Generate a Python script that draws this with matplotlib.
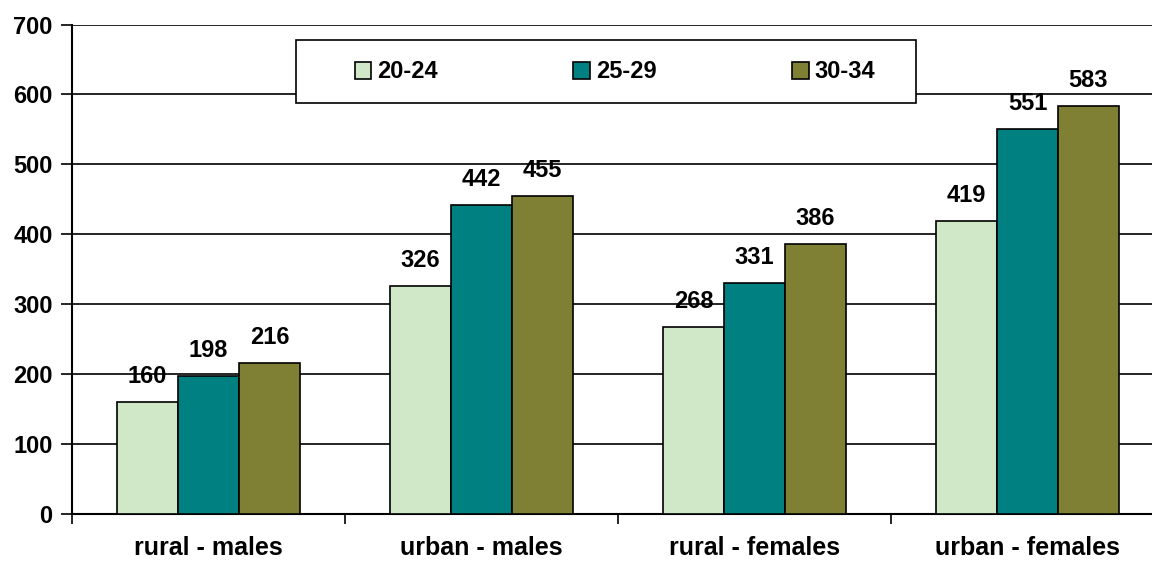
import numpy as np
import matplotlib.pyplot as plt
from matplotlib.patches import Rectangle

categories = ["rural - males", "urban - males", "rural - females", "urban - females"]
series = ["20-24", "25-29", "30-34"]
values_2024 = [160, 326, 268, 419]
values_2529 = [198, 442, 331, 551]
values_3034 = [216, 455, 386, 583]
colors = ["#D1E8C8", "#008080", "#808034"]

plt.rcParams['font.family'] = ['Liberation Sans', 'DejaVu Sans']
plt.rcParams['font.weight'] = 'bold'

W, H = 1152, 563
fig = plt.figure(figsize=(W / 100, H / 100), dpi=100)
# plot area runs past the right edge of the picture, as in the original
ax = fig.add_axes([72 / W, 1 - 514 / H, 1092 / W, (514 - 24.5) / H])

x = np.arange(len(categories))
width = 0.223
all_vals = [values_2024, values_2529, values_3034]
for i, (vals, name, col) in enumerate(zip(all_vals, series, colors)):
    pos = x + (i - 1) * width
    ax.bar(pos, vals, width, color=col, edgecolor='black', linewidth=1.2,
           label=name, zorder=3)
    for xp, v in zip(pos, vals):
        ax.annotate(str(v), (xp, v), xytext=(0, 10), textcoords='offset points',
                    ha='center', va='bottom', fontsize=17, fontweight='bold')

ax.set_xlim(-0.5, len(categories) - 0.5)
ax.set_ylim(0, 700)
ax.set_yticks(range(0, 701, 100))
ax.yaxis.grid(True, color='black', linewidth=1.2, zorder=0)
ax.set_axisbelow(True)

ax.set_xticks(np.arange(-0.5, len(categories), 1.0))
ax.set_xticklabels([])
ax.set_xticks(x, minor=True)
ax.set_xticklabels(categories, minor=True, fontsize=18, fontweight='bold')
ax.tick_params(axis='x', which='minor', length=0, pad=16)
ax.tick_params(axis='x', which='major', length=7, width=1.2, direction='out')
ax.tick_params(axis='y', length=8, width=1.2, labelsize=17, pad=6)

for s in ['top', 'right']:
    ax.spines[s].set_visible(False)
ax.spines['left'].set_linewidth(1.5)
ax.spines['bottom'].set_linewidth(1.5)

# legend box drawn separately so the entries can sit inside it freely
fig.patches.append(Rectangle((296 / W, 1 - 103 / H), 620 / W, 63 / H,
                             transform=fig.transFigure, facecolor='white',
                             edgecolor='black', linewidth=1.2, zorder=5))
leg = fig.legend(loc='center', bbox_to_anchor=(615 / W, 1 - 72 / H),
                 ncol=3, frameon=False, fontsize=17,
                 handlelength=0.7, handleheight=0.7, handletextpad=0.25,
                 columnspacing=5.75)
leg.set_zorder(6)
for t in leg.get_texts():
    t.set_fontweight('bold')

fig.savefig("out.png", dpi=100)
